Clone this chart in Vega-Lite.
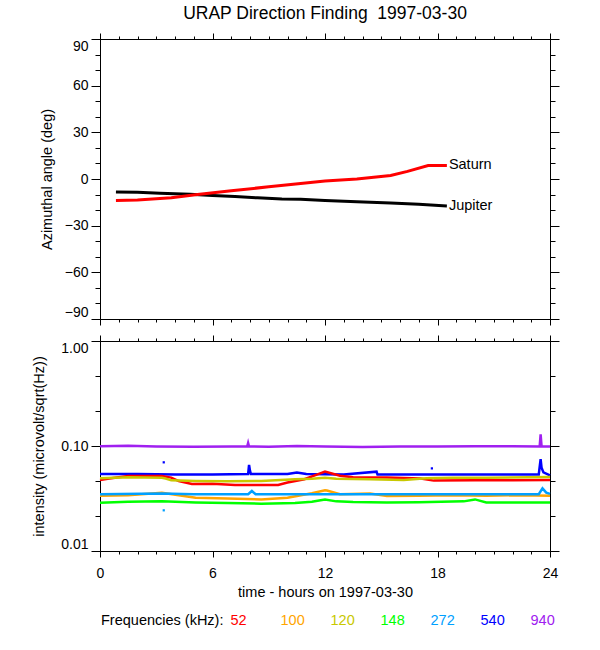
{
  "$schema": "https://vega.github.io/schema/vega-lite/v6.json",
  "background": "white",
  "padding": {"left": 31, "top": 5, "right": 5, "bottom": 5},
  "datasets": {
    "planets": [
      {"h": 0.85, "angle": -8.4, "body": "Jupiter"},
      {"h": 2.0, "angle": -8.5, "body": "Jupiter"},
      {"h": 3.2, "angle": -9.2, "body": "Jupiter"},
      {"h": 4.8, "angle": -9.8, "body": "Jupiter"},
      {"h": 6.0, "angle": -10.6, "body": "Jupiter"},
      {"h": 7.2, "angle": -11.3, "body": "Jupiter"},
      {"h": 8.4, "angle": -12.1, "body": "Jupiter"},
      {"h": 9.7, "angle": -12.8, "body": "Jupiter"},
      {"h": 10.7, "angle": -13.0, "body": "Jupiter"},
      {"h": 12.0, "angle": -13.8, "body": "Jupiter"},
      {"h": 13.7, "angle": -14.7, "body": "Jupiter"},
      {"h": 15.5, "angle": -15.4, "body": "Jupiter"},
      {"h": 17.0, "angle": -16.3, "body": "Jupiter"},
      {"h": 18.5, "angle": -17.3, "body": "Jupiter"},
      {"h": 0.85, "angle": -13.8, "body": "Saturn"},
      {"h": 2.0, "angle": -13.5, "body": "Saturn"},
      {"h": 3.8, "angle": -12.0, "body": "Saturn"},
      {"h": 5.2, "angle": -9.9, "body": "Saturn"},
      {"h": 7.0, "angle": -7.6, "body": "Saturn"},
      {"h": 9.0, "angle": -5.0, "body": "Saturn"},
      {"h": 10.7, "angle": -2.9, "body": "Saturn"},
      {"h": 12.0, "angle": -1.3, "body": "Saturn"},
      {"h": 13.7, "angle": 0.0, "body": "Saturn"},
      {"h": 15.5, "angle": 2.3, "body": "Saturn"},
      {"h": 16.4, "angle": 4.9, "body": "Saturn"},
      {"h": 17.5, "angle": 8.7, "body": "Saturn"},
      {"h": 18.5, "angle": 8.7, "body": "Saturn"}
    ],
    "intensity": [
      {"h": 0, "v": 0.0995, "f": "940"}, {"h": 1.5, "v": 0.1005, "f": "940"}, {"h": 3, "v": 0.099, "f": "940"},
      {"h": 5, "v": 0.0985, "f": "940"}, {"h": 7, "v": 0.099, "f": "940"}, {"h": 7.85, "v": 0.099, "f": "940"},
      {"h": 7.9, "v": 0.107, "f": "940"}, {"h": 7.95, "v": 0.099, "f": "940"}, {"h": 9, "v": 0.0985, "f": "940"},
      {"h": 10.5, "v": 0.1, "f": "940"}, {"h": 12, "v": 0.099, "f": "940"}, {"h": 14, "v": 0.098, "f": "940"},
      {"h": 16, "v": 0.099, "f": "940"}, {"h": 18, "v": 0.099, "f": "940"}, {"h": 20, "v": 0.0995, "f": "940"},
      {"h": 22, "v": 0.0995, "f": "940"}, {"h": 23.45, "v": 0.099, "f": "940"}, {"h": 23.5, "v": 0.129, "f": "940"},
      {"h": 23.55, "v": 0.099, "f": "940"}, {"h": 24, "v": 0.099, "f": "940"},

      {"h": 0, "v": 0.0541, "f": "540"}, {"h": 2, "v": 0.054, "f": "540"}, {"h": 4, "v": 0.0535, "f": "540"},
      {"h": 6, "v": 0.0535, "f": "540"}, {"h": 7.9, "v": 0.054, "f": "540"}, {"h": 7.95, "v": 0.066, "f": "540"},
      {"h": 8.0, "v": 0.058, "f": "540"}, {"h": 8.05, "v": 0.054, "f": "540"}, {"h": 10, "v": 0.054, "f": "540"},
      {"h": 10.5, "v": 0.056, "f": "540"}, {"h": 11, "v": 0.054, "f": "540"}, {"h": 13, "v": 0.0535, "f": "540"},
      {"h": 14.75, "v": 0.057, "f": "540"}, {"h": 14.8, "v": 0.0535, "f": "540"}, {"h": 16, "v": 0.0535, "f": "540"},
      {"h": 18, "v": 0.0535, "f": "540"}, {"h": 20, "v": 0.0535, "f": "540"}, {"h": 22, "v": 0.0535, "f": "540"},
      {"h": 23.4, "v": 0.0535, "f": "540"}, {"h": 23.5, "v": 0.075, "f": "540"}, {"h": 23.55, "v": 0.062, "f": "540"},
      {"h": 23.65, "v": 0.056, "f": "540"}, {"h": 24, "v": 0.0525, "f": "540"},

      {"h": 0, "v": 0.0475, "f": "52"}, {"h": 0.5, "v": 0.049, "f": "52"}, {"h": 1.5, "v": 0.0518, "f": "52"},
      {"h": 3.3, "v": 0.0518, "f": "52"}, {"h": 3.8, "v": 0.05, "f": "52"}, {"h": 4.2, "v": 0.0464, "f": "52"},
      {"h": 4.9, "v": 0.0435, "f": "52"}, {"h": 6, "v": 0.0438, "f": "52"}, {"h": 7.2, "v": 0.0425, "f": "52"},
      {"h": 8.1, "v": 0.0425, "f": "52"}, {"h": 9.5, "v": 0.0425, "f": "52"}, {"h": 10, "v": 0.0449, "f": "52"},
      {"h": 10.9, "v": 0.0482, "f": "52"}, {"h": 11.6, "v": 0.0537, "f": "52"}, {"h": 12, "v": 0.057, "f": "52"},
      {"h": 12.8, "v": 0.0521, "f": "52"}, {"h": 13.5, "v": 0.0504, "f": "52"}, {"h": 15.3, "v": 0.0502, "f": "52"},
      {"h": 17.1, "v": 0.049, "f": "52"}, {"h": 17.8, "v": 0.0468, "f": "52"}, {"h": 20, "v": 0.0471, "f": "52"},
      {"h": 22, "v": 0.0471, "f": "52"}, {"h": 24, "v": 0.0475, "f": "52"},

      {"h": 0, "v": 0.0492, "f": "120"}, {"h": 1.5, "v": 0.0504, "f": "120"}, {"h": 3.3, "v": 0.0499, "f": "120"},
      {"h": 3.5, "v": 0.049, "f": "120"}, {"h": 3.8, "v": 0.0471, "f": "120"}, {"h": 5.1, "v": 0.0464, "f": "120"},
      {"h": 6.8, "v": 0.0461, "f": "120"}, {"h": 8.6, "v": 0.0464, "f": "120"}, {"h": 10.4, "v": 0.0482, "f": "120"},
      {"h": 11.3, "v": 0.0488, "f": "120"}, {"h": 12, "v": 0.0499, "f": "120"}, {"h": 12.6, "v": 0.0488, "f": "120"},
      {"h": 14.4, "v": 0.0482, "f": "120"}, {"h": 16.2, "v": 0.0474, "f": "120"}, {"h": 17.4, "v": 0.0492, "f": "120"},
      {"h": 18.8, "v": 0.0499, "f": "120"}, {"h": 20.6, "v": 0.0499, "f": "120"}, {"h": 24, "v": 0.0507, "f": "120"},

      {"h": 0, "v": 0.0336, "f": "100"}, {"h": 1.5, "v": 0.034, "f": "100"}, {"h": 3.3, "v": 0.0359, "f": "100"},
      {"h": 4.2, "v": 0.034, "f": "100"}, {"h": 5.1, "v": 0.0322, "f": "100"}, {"h": 6.8, "v": 0.0317, "f": "100"},
      {"h": 8.6, "v": 0.031, "f": "100"}, {"h": 10, "v": 0.0322, "f": "100"}, {"h": 11.3, "v": 0.0355, "f": "100"},
      {"h": 12, "v": 0.0379, "f": "100"}, {"h": 12.1, "v": 0.0377, "f": "100"}, {"h": 12.8, "v": 0.0347, "f": "100"},
      {"h": 14.4, "v": 0.0352, "f": "100"}, {"h": 15.3, "v": 0.0334, "f": "100"}, {"h": 17, "v": 0.0336, "f": "100"},
      {"h": 18.8, "v": 0.034, "f": "100"}, {"h": 20.6, "v": 0.0336, "f": "100"}, {"h": 22.5, "v": 0.034, "f": "100"},
      {"h": 24, "v": 0.0336, "f": "100"},

      {"h": 0, "v": 0.0347, "f": "272"}, {"h": 3.3, "v": 0.0353, "f": "272"}, {"h": 5, "v": 0.0347, "f": "272"},
      {"h": 7.9, "v": 0.0347, "f": "272"}, {"h": 8.1, "v": 0.0373, "f": "272"}, {"h": 8.3, "v": 0.0347, "f": "272"},
      {"h": 12, "v": 0.0347, "f": "272"}, {"h": 16, "v": 0.0347, "f": "272"}, {"h": 20, "v": 0.0347, "f": "272"},
      {"h": 23.4, "v": 0.0347, "f": "272"}, {"h": 23.6, "v": 0.0395, "f": "272"}, {"h": 23.8, "v": 0.036, "f": "272"},
      {"h": 24, "v": 0.035, "f": "272"},

      {"h": 0, "v": 0.0288, "f": "148"}, {"h": 1.5, "v": 0.0295, "f": "148"}, {"h": 3.3, "v": 0.0297, "f": "148"},
      {"h": 5.1, "v": 0.029, "f": "148"}, {"h": 6.8, "v": 0.0286, "f": "148"}, {"h": 8.6, "v": 0.0282, "f": "148"},
      {"h": 10.4, "v": 0.0286, "f": "148"}, {"h": 11.3, "v": 0.0295, "f": "148"}, {"h": 12, "v": 0.031, "f": "148"},
      {"h": 12.6, "v": 0.0297, "f": "148"}, {"h": 13.5, "v": 0.0293, "f": "148"}, {"h": 15.3, "v": 0.029, "f": "148"},
      {"h": 17, "v": 0.0291, "f": "148"}, {"h": 19.4, "v": 0.0297, "f": "148"}, {"h": 20, "v": 0.031, "f": "148"},
      {"h": 20.6, "v": 0.029, "f": "148"}, {"h": 22.5, "v": 0.029, "f": "148"}, {"h": 24, "v": 0.029, "f": "148"}
    ],
    "dots": [
      {"h": 3.4, "v": 0.0699, "f": "540"},
      {"h": 17.7, "v": 0.0612, "f": "540"},
      {"h": 3.4, "v": 0.0244, "f": "272"}
    ]
  },
  "spacing": 8,
  "resolve": {"scale": {"color": "independent"}, "legend": {"color": "independent"}},
  "vconcat": [
    {
      "width": 450,
      "height": 280,
      "title": {"text": "URAP Direction Finding\u00a0 1997-03-30", "frame": "group", "anchor": "middle", "fontSize": 17.5, "fontWeight": "normal", "font": "Liberation Sans", "color": "black", "offset": 10},
      "data": {"name": "planets"},
      "resolve": {"axis": {"x": "independent", "y": "independent"}},
      "layer": [
        {
          "mark": {"type": "line", "strokeWidth": 3},
          "encoding": {
            "x": {"field": "h", "type": "quantitative", "scale": {"domain": [0, 24], "nice": false, "zero": false},
              "axis": {"orient": "bottom", "values": [0, 6, 12, 18, 24], "labels": false, "tickSize": 6, "title": null}},
            "y": {"field": "angle", "type": "quantitative", "scale": {"domain": [-90, 90], "nice": false},
              "axis": {"orient": "left", "values": [-90, -60, -30, 0, 30, 60, 90], "tickSize": 9, "labelPadding": 3, "labelFlush": true, "title": "Azimuthal angle (deg)", "titlePadding": 10}},
            "color": {"field": "body", "type": "nominal", "scale": {"domain": ["Saturn", "Jupiter"], "range": ["#ff0000", "#000000"]}, "legend": null}
          }
        },
        {
          "transform": [
            {"joinaggregate": [{"op": "max", "field": "h", "as": "hmax"}], "groupby": ["body"]},
            {"filter": "datum.h === datum.hmax"}
          ],
          "mark": {"type": "text", "align": "left", "baseline": "middle", "dx": 2, "fontSize": 14.5, "font": "Liberation Sans", "color": "black"},
          "encoding": {
            "x": {"field": "h", "type": "quantitative", "axis": null},
            "y": {"field": "angle", "type": "quantitative", "axis": null},
            "text": {"field": "body"}
          }
        },
        {
          "mark": {"type": "point", "opacity": 0},
          "encoding": {
            "x": {"field": "h", "type": "quantitative", "axis": {"orient": "top", "values": [0, 6, 12, 18, 24], "labels": false, "tickSize": 6, "title": null}},
            "y": {"field": "angle", "type": "quantitative", "axis": {"orient": "right", "values": [-90, -60, -30, 0, 30, 60, 90], "labels": false, "tickSize": 9, "title": null}}
          }
        },
        {
          "mark": {"type": "point", "opacity": 0},
          "encoding": {
            "x": {"field": "h", "type": "quantitative", "axis": {"orient": "bottom", "values": [1, 2, 3, 4, 5, 7, 8, 9, 10, 11, 13, 14, 15, 16, 17, 19, 20, 21, 22, 23], "labels": false, "tickSize": 3, "title": null}},
            "y": {"field": "angle", "type": "quantitative", "axis": {"orient": "left", "values": [-80, -70, -50, -40, -20, -10, 10, 20, 40, 50, 70, 80], "labels": false, "tickSize": 5, "title": null}}
          }
        },
        {
          "mark": {"type": "point", "opacity": 0},
          "encoding": {
            "x": {"field": "h", "type": "quantitative", "axis": {"orient": "top", "values": [1, 2, 3, 4, 5, 7, 8, 9, 10, 11, 13, 14, 15, 16, 17, 19, 20, 21, 22, 23], "labels": false, "tickSize": 3, "title": null}},
            "y": {"field": "angle", "type": "quantitative", "axis": {"orient": "right", "values": [-80, -70, -50, -40, -20, -10, 10, 20, 40, 50, 70, 80], "labels": false, "tickSize": 5, "title": null}}
          }
        }
      ]
    },
    {
      "width": 450,
      "height": 210,
      "resolve": {"axis": {"x": "independent", "y": "independent"}},
      "layer": [
        {
          "data": {"name": "intensity"},
          "mark": {"type": "line", "strokeWidth": 2.5},
          "encoding": {
            "x": {"field": "h", "type": "quantitative", "scale": {"domain": [0, 24], "nice": false, "zero": false},
              "axis": {"orient": "bottom", "values": [0, 6, 12, 18, 24], "tickSize": 6, "labelPadding": 9, "labelFlush": false, "title": "time - hours on 1997-03-30", "titlePadding": 5}},
            "y": {"field": "v", "type": "quantitative", "scale": {"type": "log", "domain": [0.01, 1], "nice": false},
              "axis": {"orient": "left", "values": [0.01, 0.1, 1], "format": ".2f", "tickSize": 9, "labelPadding": 3, "labelFlush": true, "title": "intensity (microvolt/sqrt(Hz))", "titlePadding": 14}},
            "color": {"field": "f", "type": "nominal",
              "scale": {"domain": ["52", "100", "120", "148", "272", "540", "940"], "range": ["#ff0000", "#ffa500", "#c8c800", "#00ff00", "#00a0ff", "#0000ff", "#a020f0"]},
              "legend": {
                "orient": "none", "legendX": 1, "legendY": 273, "direction": "horizontal", "columns": 7, "gridAlign": "all",
                "title": "Frequencies (kHz):", "titleOrient": "left", "titlePadding": 8, "titleFontSize": 14.5, "titleFontWeight": "normal", "titleFont": "Liberation Sans", "titleColor": "black",
                "labelFontSize": 14.5, "labelFont": "Liberation Sans", "labelOffset": -16, "columnPadding": 25,
                "symbolSize": 0, "symbolOpacity": 0, "symbolStrokeWidth": 0,
                "encoding": {"labels": {"fill": {"value": {"expr": "datum.value === '52' ? '#ff0000' : datum.value === '100' ? '#ffa500' : datum.value === '120' ? '#c8c800' : datum.value === '148' ? '#00ff00' : datum.value === '272' ? '#00a0ff' : datum.value === '540' ? '#0000ff' : '#a020f0'"}}}}
              }
            }
          }
        },
        {
          "data": {"name": "dots"},
          "mark": {"type": "square", "size": 5, "opacity": 1},
          "encoding": {
            "x": {"field": "h", "type": "quantitative", "axis": null},
            "y": {"field": "v", "type": "quantitative", "axis": null},
            "color": {"field": "f", "type": "nominal", "legend": null}
          }
        },
        {
          "data": {"name": "dots"},
          "mark": {"type": "point", "opacity": 0},
          "encoding": {
            "x": {"field": "h", "type": "quantitative", "axis": {"orient": "top", "values": [0, 6, 12, 18, 24], "labels": false, "tickSize": 6, "title": null}},
            "y": {"field": "v", "type": "quantitative", "axis": {"orient": "right", "values": [0.01, 0.1, 1], "labels": false, "tickSize": 9, "title": null}}
          }
        },
        {
          "data": {"name": "dots"},
          "mark": {"type": "point", "opacity": 0},
          "encoding": {
            "x": {"field": "h", "type": "quantitative", "axis": {"orient": "bottom", "values": [1, 2, 3, 4, 5, 7, 8, 9, 10, 11, 13, 14, 15, 16, 17, 19, 20, 21, 22, 23], "labels": false, "tickSize": 3, "title": null}},
            "y": {"field": "v", "type": "quantitative", "axis": {"orient": "left", "values": [0.0215, 0.0464, 0.215, 0.464], "labels": false, "tickSize": 5, "title": null}}
          }
        },
        {
          "data": {"name": "dots"},
          "mark": {"type": "point", "opacity": 0},
          "encoding": {
            "x": {"field": "h", "type": "quantitative", "axis": {"orient": "top", "values": [1, 2, 3, 4, 5, 7, 8, 9, 10, 11, 13, 14, 15, 16, 17, 19, 20, 21, 22, 23], "labels": false, "tickSize": 3, "title": null}},
            "y": {"field": "v", "type": "quantitative", "axis": {"orient": "right", "values": [0.0215, 0.0464, 0.215, 0.464], "labels": false, "tickSize": 5, "title": null}}
          }
        }
      ]
    }
  ],
  "config": {
    "view": {"stroke": null},
    "axis": {
      "grid": false, "domainColor": "black", "tickColor": "black", "labelColor": "black", "titleColor": "black",
      "labelFont": "Liberation Sans", "titleFont": "Liberation Sans", "labelFontSize": 14, "titleFontSize": 14.5,
      "titleFontWeight": "normal", "domainWidth": 1, "tickWidth": 1, "labelFlush": false
    }
  }
}
